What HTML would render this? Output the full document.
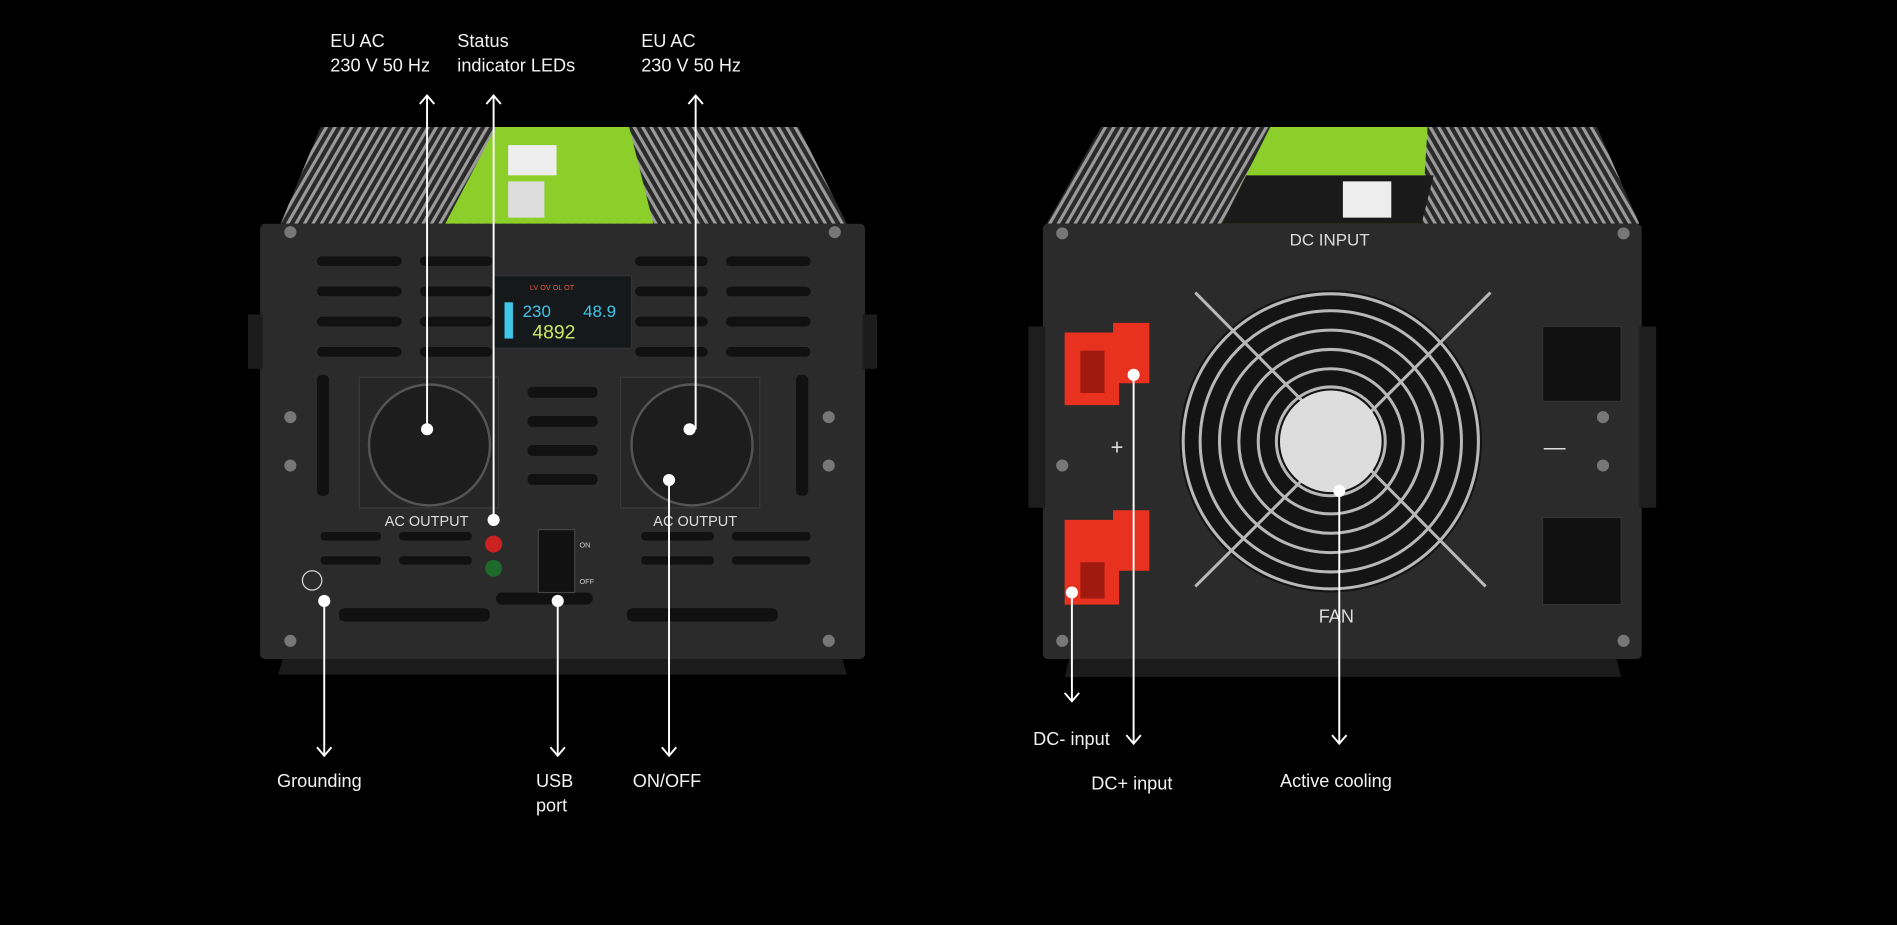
<!DOCTYPE html>
<html><head><meta charset="utf-8"><style>
html,body{margin:0;padding:0;background:#000;width:1897px;height:925px;overflow:hidden}
svg{display:block}
text{font-family:"Liberation Sans",sans-serif;fill:#f2f2f2}
</style></head><body>
<svg width="1897" height="925" viewBox="0 0 1568 765" preserveAspectRatio="none" xmlns="http://www.w3.org/2000/svg">
<defs>
<pattern id="fins" width="7" height="10" patternUnits="userSpaceOnUse" patternTransform="skewX(-30)">
<rect width="7" height="10" fill="#2a2a2a"/><rect width="3" height="10" fill="#9a9a9a"/></pattern>
<pattern id="fins2" width="7" height="10" patternUnits="userSpaceOnUse" patternTransform="skewX(30)">
<rect width="7" height="10" fill="#2a2a2a"/><rect width="3" height="10" fill="#9a9a9a"/></pattern>
</defs>
<rect width="1568" height="765" fill="#000"/>

<!-- LEFT DEVICE -->
<polygon points="232,185 265,105 465,105 465,185" fill="url(#fins)"/>
<polygon points="465,185 465,105 660,105 700,185" fill="url(#fins2)"/>
<polygon points="368,185 410,105 520,105 540,185" fill="#8dcf2a"/>
<rect x="420" y="120" width="40" height="25" fill="#eee"/>
<rect x="420" y="150" width="30" height="30" fill="#ddd"/>
<polygon points="235,540 695,540 700,558 230,558" fill="#1b1b1b"/>
<rect x="215" y="185" width="500" height="360" rx="4" fill="#2b2b2b"/>
<rect x="205" y="260" width="12" height="45" fill="#1c1c1c"/>
<rect x="713" y="260" width="12" height="45" fill="#1c1c1c"/>
<g fill="#111">
<rect x="262" y="212" width="70" height="8" rx="4"/><rect x="347" y="212" width="60" height="8" rx="4"/>
<rect x="262" y="237" width="70" height="8" rx="4"/><rect x="347" y="237" width="60" height="8" rx="4"/>
<rect x="262" y="262" width="70" height="8" rx="4"/><rect x="347" y="262" width="60" height="8" rx="4"/>
<rect x="262" y="287" width="70" height="8" rx="4"/><rect x="347" y="287" width="60" height="8" rx="4"/>
<rect x="525" y="212" width="60" height="8" rx="4"/><rect x="600" y="212" width="70" height="8" rx="4"/>
<rect x="525" y="237" width="60" height="8" rx="4"/><rect x="600" y="237" width="70" height="8" rx="4"/>
<rect x="525" y="262" width="60" height="8" rx="4"/><rect x="600" y="262" width="70" height="8" rx="4"/>
<rect x="525" y="287" width="60" height="8" rx="4"/><rect x="600" y="287" width="70" height="8" rx="4"/>
<rect x="436" y="320" width="58" height="9" rx="4"/><rect x="436" y="344" width="58" height="9" rx="4"/>
<rect x="436" y="368" width="58" height="9" rx="4"/><rect x="436" y="392" width="58" height="9" rx="4"/>
<rect x="265" y="440" width="50" height="7" rx="3"/><rect x="330" y="440" width="60" height="7" rx="3"/>
<rect x="265" y="460" width="50" height="7" rx="3"/><rect x="330" y="460" width="60" height="7" rx="3"/>
<rect x="530" y="440" width="60" height="7" rx="3"/><rect x="605" y="440" width="65" height="7" rx="3"/>
<rect x="530" y="460" width="60" height="7" rx="3"/><rect x="605" y="460" width="65" height="7" rx="3"/>
<rect x="280" y="503" width="125" height="11" rx="5"/><rect x="518" y="503" width="125" height="11" rx="5"/>
<rect x="410" y="490" width="80" height="10" rx="5"/>
<rect x="262" y="310" width="10" height="100" rx="4"/><rect x="658" y="310" width="10" height="100" rx="4"/>
</g>
<rect x="408" y="228" width="114" height="60" fill="#16191b" stroke="#333"/>
<text x="432" y="262" font-size="14" style="fill:#3fc6e8">230</text>
<text x="482" y="262" font-size="14" style="fill:#3fc6e8">48.9</text>
<text x="440" y="280" font-size="16" style="fill:#c8e860">4892</text>
<rect x="417" y="250" width="7" height="30" fill="#3fc6e8"/>
<text x="438" y="240" font-size="6" style="fill:#e85a3a">LV  OV  OL  OT</text>
<g>
<rect x="297" y="312" width="115" height="108" fill="#262626" stroke="#3a3a3a"/>
<circle cx="355" cy="368" r="50" fill="#1d1d1d" stroke="#555" stroke-width="2"/>
<rect x="513" y="312" width="115" height="108" fill="#262626" stroke="#3a3a3a"/>
<circle cx="572" cy="368" r="50" fill="#1d1d1d" stroke="#555" stroke-width="2"/>
</g>
<text x="318" y="435" font-size="12" style="fill:#ddd">AC OUTPUT</text>
<text x="540" y="435" font-size="12" style="fill:#ddd">AC OUTPUT</text>
<circle cx="408" cy="450" r="7" fill="#c22"/><circle cx="408" cy="470" r="7" fill="#1d6a2a"/>
<rect x="445" y="438" width="30" height="52" fill="#111" stroke="#444"/>
<text x="479" y="453" font-size="6" style="fill:#ccc">ON</text><text x="479" y="483" font-size="6" style="fill:#ccc">OFF</text>
<circle cx="258" cy="480" r="8" fill="none" stroke="#ddd"/>
<g fill="#777"><circle cx="240" cy="192" r="5"/><circle cx="690" cy="192" r="5"/><circle cx="240" cy="345" r="5"/><circle cx="685" cy="345" r="5"/><circle cx="240" cy="385" r="5"/><circle cx="685" cy="385" r="5"/><circle cx="240" cy="530" r="5"/><circle cx="685" cy="530" r="5"/></g>

<!-- RIGHT DEVICE -->
<polygon points="865,185 910,105 1110,105 1110,185" fill="url(#fins)"/>
<polygon points="1110,185 1110,105 1320,105 1355,185" fill="url(#fins2)"/>
<polygon points="1010,185 1050,105 1180,105 1175,185" fill="#8dcf2a"/>
<polygon points="1010,185 1030,145 1185,145 1175,185" fill="#1a1a1a"/>
<rect x="1110" y="150" width="40" height="30" fill="#eee"/>
<polygon points="885,540 1335,540 1340,560 880,560" fill="#1b1b1b"/>
<rect x="862" y="185" width="495" height="360" rx="4" fill="#2b2b2b"/>
<rect x="850" y="270" width="14" height="150" fill="#1e1e1e"/>
<rect x="1355" y="270" width="14" height="150" fill="#1e1e1e"/>
<text x="1066" y="203" font-size="14" style="fill:#ddd">DC INPUT</text>
<text x="1090" y="515" font-size="15" style="fill:#ddd">FAN</text>
<text x="918" y="376" font-size="18" style="fill:#ddd">+</text>
<text x="1276" y="376" font-size="18" style="fill:#ddd">—</text>
<circle cx="1100" cy="365" r="125" fill="#141414"/>
<g fill="none" stroke="#b8b8b8" stroke-width="2.5">
<circle cx="1100" cy="365" r="122"/><circle cx="1100" cy="365" r="108"/><circle cx="1100" cy="365" r="92"/>
<circle cx="1100" cy="365" r="76"/><circle cx="1100" cy="365" r="60"/><circle cx="1100" cy="365" r="45"/>
<line x1="988" y1="242" x2="1228" y2="485"/><line x1="1232" y1="242" x2="988" y2="485"/>
</g>
<circle cx="1100" cy="365" r="42" fill="#ddd"/>
<path d="M880 275 h40 v-8 h30 v50 h-25 v18 h-45z" fill="#e8321f"/>
<rect x="893" y="290" width="20" height="35" fill="#a01a10"/>
<path d="M880 430 h40 v-8 h30 v50 h-25 v28 h-45z" fill="#e8321f"/>
<rect x="893" y="465" width="20" height="30" fill="#a01a10"/>
<rect x="1275" y="270" width="65" height="62" fill="#111" stroke="#333"/>
<rect x="1275" y="428" width="65" height="72" fill="#111" stroke="#333"/>
<g fill="#777"><circle cx="878" cy="193" r="5"/><circle cx="1342" cy="193" r="5"/><circle cx="1325" cy="345" r="5"/><circle cx="1325" cy="385" r="5"/><circle cx="878" cy="385" r="5"/><circle cx="878" cy="530" r="5"/><circle cx="1342" cy="530" r="5"/></g>

<!-- CALLOUTS -->
<g stroke="#fff" stroke-width="1.6" fill="none">
<line x1="353" y1="79" x2="353" y2="355"/><path d="M347 86 L353 79 L359 86"/>
<line x1="408" y1="79" x2="408" y2="430"/><path d="M402 86 L408 79 L414 86"/>
<line x1="575" y1="79" x2="575" y2="355"/><line x1="575" y1="355" x2="570" y2="355"/><path d="M569 86 L575 79 L581 86"/>
<line x1="268" y1="497" x2="268" y2="625"/><path d="M262 618 L268 625 L274 618"/>
<line x1="461" y1="497" x2="461" y2="625"/><path d="M455 618 L461 625 L467 618"/>
<line x1="553" y1="397" x2="553" y2="625"/><path d="M547 618 L553 625 L559 618"/>
<line x1="886" y1="490" x2="886" y2="580"/><path d="M880 573 L886 580 L892 573"/>
<line x1="937" y1="310" x2="937" y2="615"/><path d="M931 608 L937 615 L943 608"/>
<line x1="1107" y1="406" x2="1107" y2="615"/><path d="M1101 608 L1107 615 L1113 608"/>
</g>
<g fill="#fff">
<circle cx="353" cy="355" r="5"/><circle cx="408" cy="430" r="5"/><circle cx="570" cy="355" r="5"/>
<circle cx="268" cy="497" r="5"/><circle cx="461" cy="497" r="5"/><circle cx="553" cy="397" r="5"/>
<circle cx="886" cy="490" r="5"/><circle cx="937" cy="310" r="5"/><circle cx="1107" cy="406" r="5"/>
</g>
<g font-size="15">
<text x="273" y="39">EU AC</text><text x="273" y="59">230 V 50 Hz</text>
<text x="378" y="39">Status</text><text x="378" y="59">indicator LEDs</text>
<text x="530" y="39">EU AC</text><text x="530" y="59">230 V 50 Hz</text>
<text x="229" y="651">Grounding</text>
<text x="443" y="651">USB</text><text x="443" y="671">port</text>
<text x="523" y="651">ON/OFF</text>
<text x="854" y="616">DC- input</text>
<text x="902" y="653">DC+ input</text>
<text x="1058" y="651">Active cooling</text>
</g>
</svg>
</body></html>
